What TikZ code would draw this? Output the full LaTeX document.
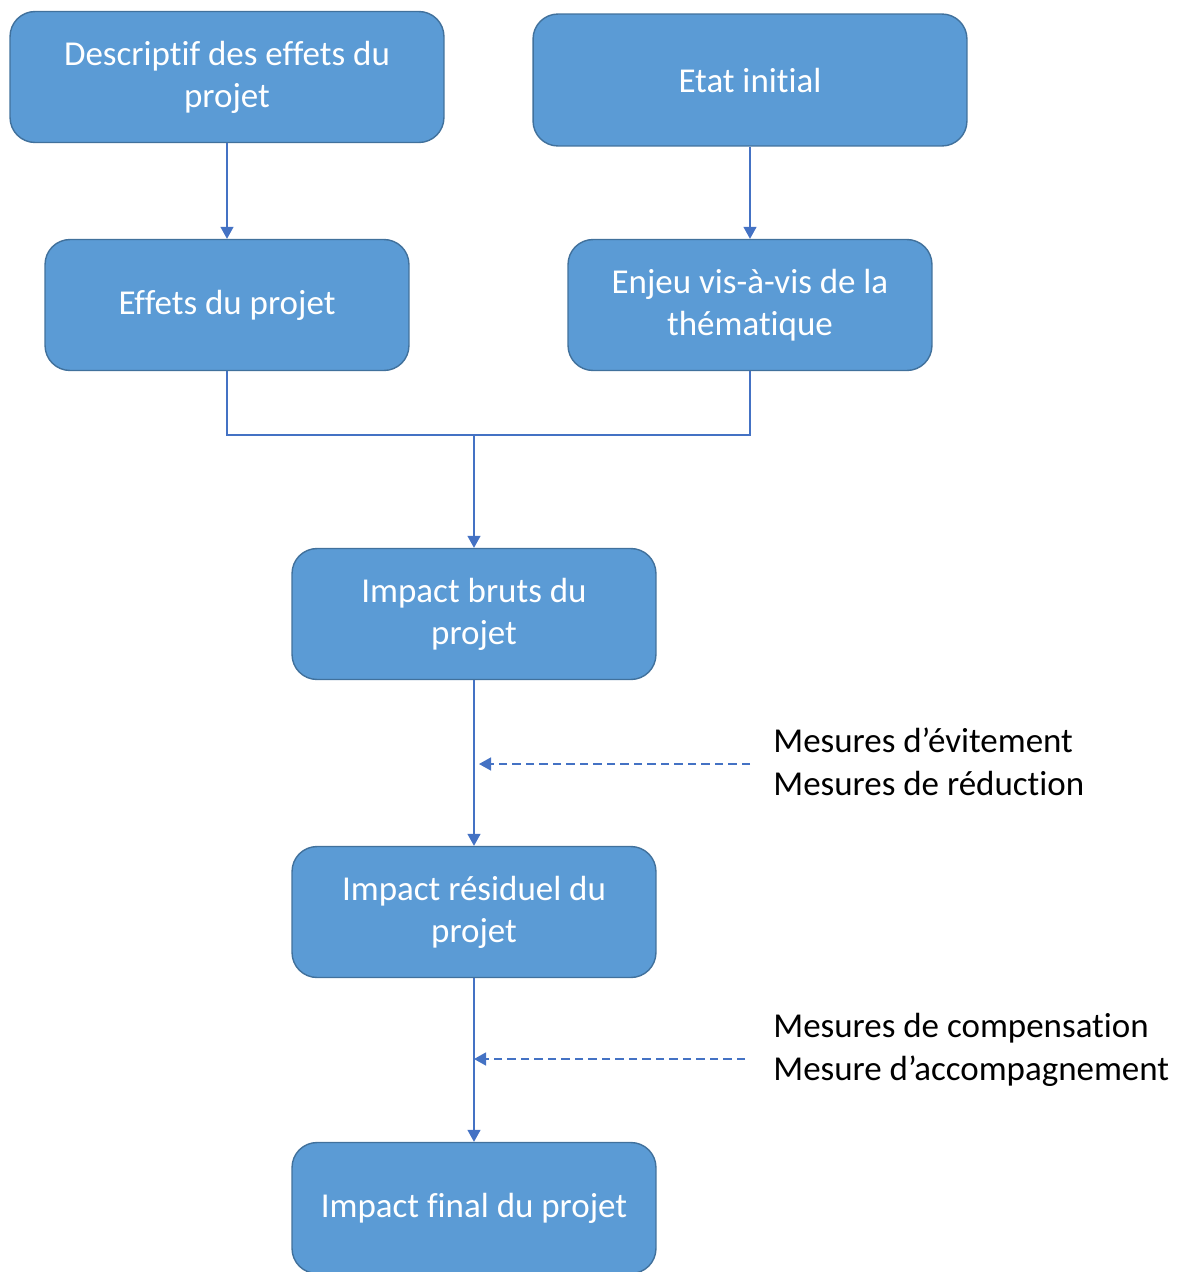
\documentclass[tikz,border=0pt]{standalone}
\usepackage{fontspec}
\setmainfont{Carlito}[RawFeature={-liga;-clig;-dlig}]
\usetikzlibrary{arrows.meta}
\definecolor{boxfill}{HTML}{5B9BD5}
\definecolor{boxline}{HTML}{41719C}
\definecolor{arrowblue}{HTML}{4472C4}
\tikzset{
  stagebox/.style={draw=boxline, line width=0.8pt, fill=boxfill, rounded corners=0.5cm,
    text=white, align=center, minimum width=7.28cm, minimum height=2.62cm,
    inner sep=0pt, font=\fontsize{19.9}{23.9}\selectfont},
  widebox/.style={stagebox, minimum width=8.68cm},
  flow/.style={draw=arrowblue, line width=0.8pt, -{Triangle[width=0.26cm,length=0.24cm]}},
  measure/.style={flow, dash pattern=on 0.17cm off 0.1cm},
  measuretext/.style={anchor=west, align=left, inner sep=0pt,
    font=\fontsize{19.9}{24.4}\selectfont}
}
\begin{document}
\begin{tikzpicture}[x=0.02cm, y=-0.02cm]
  \useasboundingbox (0,0) rectangle (1180,1272);
  \clip (0,0) rectangle (1180,1272);
  % top row
  \node[widebox] (descriptif) at (227,77) {Descriptif des effets du\\projet};
  \node[widebox, minimum height=2.64cm] (etat) at (750,80) {Etat initial};
  % second row
  \node[stagebox] (effets) at (227,305) {Effets du projet};
  \node[stagebox] (enjeu) at (750,305) {Enjeu vis-à-vis de la\\thématique};
  % impacts
  \node[stagebox] (bruts) at (474,614) {Impact bruts du\\projet};
  \node[stagebox] (residuel) at (474,912) {Impact résiduel du\\projet};
  \node[stagebox] (final) at (474,1208) {Impact final du projet};
  % measures
  \node[measuretext] (mes1) at (773,762) {Mesures d’évitement\\Mesures de réduction};
  \node[measuretext] (mes2) at (773,1050) {Mesures de compensation\\Mesure d’accompagnement};
  \coordinate (join) at (474,435);
  \coordinate (m1a) at (750,764);
  \coordinate (m1b) at (479,764);
  \coordinate (m2a) at (745,1059);
  \coordinate (m2b) at (474,1059);
  % arrows
  \draw[flow] (descriptif) -- (effets);
  \draw[flow] (etat) -- (enjeu);
  \draw[draw=arrowblue, line width=0.8pt] (effets.south) |- (join);
  \draw[draw=arrowblue, line width=0.8pt] (enjeu.south) |- (join);
  \draw[flow] (join) -- (bruts.north);
  \draw[flow] (bruts) -- (residuel);
  \draw[flow] (residuel) -- (final);
  \draw[measure] (m1a) -- (m1b);
  \draw[measure] (m2a) -- (m2b);
\end{tikzpicture}
\end{document}
